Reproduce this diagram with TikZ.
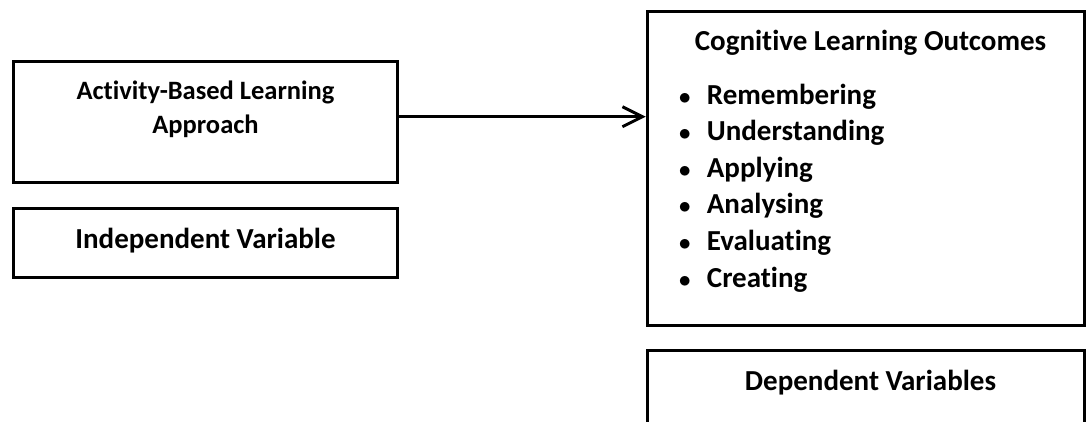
\documentclass[tikz,border=0pt]{standalone}
\usepackage{fontspec}
\setmainfont{Carlito}[RawFeature={-liga}]
\usetikzlibrary{arrows.meta}
\tikzset{
    box/.style={draw, rectangle, line width=3pt, inner sep=0pt},
    caption/.style={font=\bfseries\fontsize{29}{35}\selectfont, inner sep=0pt, anchor=base},
    smallcaption/.style={caption, font=\bfseries\fontsize{26.5}{32}\selectfont},
    bulletitem/.style={caption, anchor=base west},
    flow/.style={line width=3pt, -{Straight Barb[length=20pt, width=20pt]}}
}
\newcommand{\outcomebullet}{\makebox[28.4pt][l]{\fontsize{36}{36}\selectfont$\bullet$}}

\begin{document}
\begin{tikzpicture}[x=1pt, y=-1pt]
    \useasboundingbox (0,0) rectangle (1086,421);
    \clip (0,0) rectangle (1086,421);

    % independent side
    \node[box, minimum width=384.4pt, minimum height=120.6pt] (abl) at (205.5,122) {};
    \node[smallcaption] (abl-line1) at (205.5,99) {Activity-Based Learning};
    \node[smallcaption] (abl-line2) at (205.5,133) {Approach};

    \node[box, minimum width=384.4pt, minimum height=69.4pt] (indep) at (205.5,243) {};
    \node[caption] (indep-text) at (205.5,248) {Independent Variable};

    % dependent side
    \node[box, minimum width=437.4pt, minimum height=314pt] (clo) at (866,168.7) {};
    \node[caption] (clo-title) at (870.5,50) {Cognitive Learning Outcomes};
    \node[bulletitem] (clo-rem) at (678.3,104) {\outcomebullet Remembering};
    \node[bulletitem] (clo-und) at (678.3,140.6) {\outcomebullet Understanding};
    \node[bulletitem] (clo-app) at (678.3,177.2) {\outcomebullet Applying};
    \node[bulletitem] (clo-ana) at (678.3,213.8) {\outcomebullet Analysing};
    \node[bulletitem] (clo-eva) at (678.3,250.4) {\outcomebullet Evaluating};
    \node[bulletitem] (clo-cre) at (678.3,287) {\outcomebullet Creating};

    \node[box, minimum width=437.4pt, minimum height=100pt] (dep) at (866,400) {};
    \node[caption] (dep-text) at (870.5,390) {Dependent Variables};

    \coordinate (flow-y) at (0,116.7);
    \draw[flow] (abl.east |- flow-y) -- (clo.west |- flow-y);
\end{tikzpicture}
\end{document}
